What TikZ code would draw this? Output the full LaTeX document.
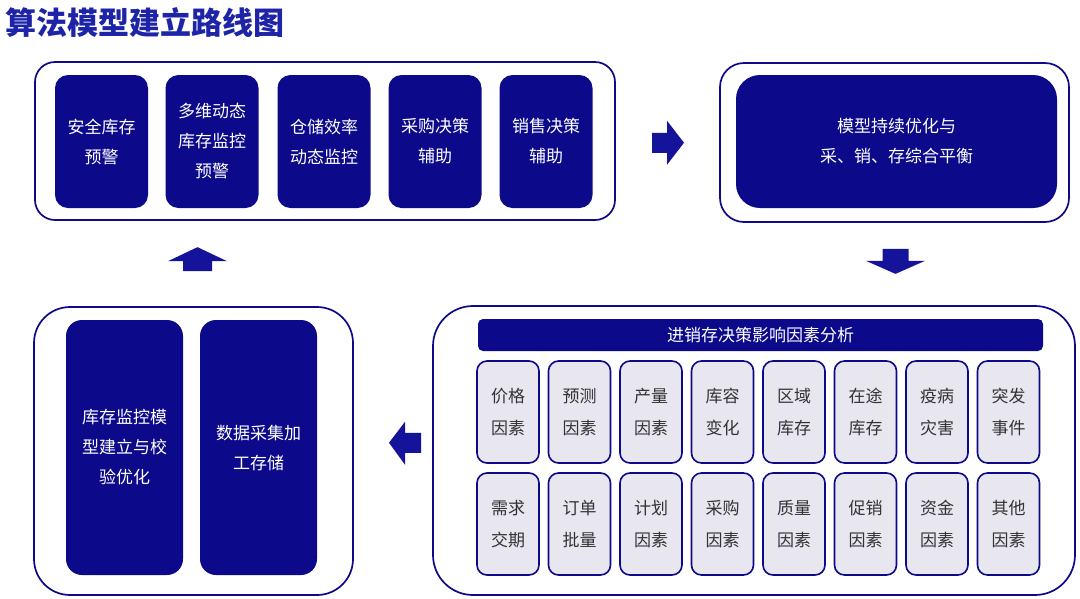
\documentclass[tikz,border=0pt]{standalone}
\usepackage{fontspec}
\setmainfont{Noto Sans CJK SC}
\definecolor{navy}{HTML}{0C0A8A}
\definecolor{titleblue}{HTML}{1E24A8}
\definecolor{arrowblue}{HTML}{15139A}
\definecolor{lavender}{HTML}{E8E6EF}
\definecolor{inkgray}{HTML}{333333}
\usepackage{tikz}
\usetikzlibrary{positioning,calc}

\begin{document}
\begin{tikzpicture}[x=1pt,y=-1pt,
    panel/.style={draw=navy,line width=1.7pt,fill=white,inner sep=0pt},
    card/.style={fill=navy,rounded corners=13pt,text=white,align=center,
      font=\fontsize{17}{30}\selectfont,inner sep=0pt},
    factor/.style={draw=navy,line width=1.6pt,fill=lavender,rounded corners=10pt,
      text=inkgray,align=center,font=\fontsize{17}{32}\selectfont,
      minimum width=62pt,minimum height=102pt,inner sep=0pt},
    blockarrow/.style={fill=arrowblue}]
  \useasboundingbox (0,0) rectangle (1080,598);
  % title
  \node[anchor=west,text=titleblue,font=\fontsize{31}{34}\selectfont\bfseries]
    (title) at (2,22) {算法模型建立路线图};
  % panel 1: monitoring functions
  \node[panel,rounded corners=20pt,minimum width=580pt,minimum height=158pt] (monitor) at (325,141) {};
  \foreach \cx/\txt [count=\i] in {101.5/{安全库存\\预警},212/{多维动态\\库存监控\\预警},
      324/{仓储效率\\动态监控},435/{采购决策\\辅助},546/{销售决策\\辅助}}
    \node[card,minimum width=93pt,minimum height=133pt] (fn\i) at (\cx,141.5) {\txt};
  % panel 2: continuous optimisation
  \node[panel,rounded corners=24pt,minimum width=349pt,minimum height=159pt] (outer) at (894.5,142.5) {};
  \node[card,rounded corners=24pt,minimum width=321pt,minimum height=133pt]
    (optimize) at (896.5,141.5) {模型持续优化与\\采、销、存综合平衡};
  % panel 3: factor analysis
  \node[panel,rounded corners=40pt,minimum width=642pt,minimum height=289pt] (factors) at (754,450.5) {};
  \node[fill=navy,rounded corners=5pt,text=white,font=\fontsize{17}{20}\selectfont,
    minimum width=565pt,minimum height=32pt,inner sep=0pt] (header) at (760.5,335) {进销存决策影响因素分析};
  \foreach \txt [count=\i] in {{价格\\因素},{预测\\因素},{产量\\因素},{库容\\变化},
      {区域\\库存},{在途\\库存},{疫病\\灾害},{突发\\事件}}
    \node[factor] (fa\i) at (508+71.5*\i-71.5,412) {\txt};
  \foreach \txt [count=\i] in {{需求\\交期},{订单\\批量},{计划\\因素},{采购\\因素},
      {质量\\因素},{促销\\因素},{资金\\因素},{其他\\因素}}
    \node[factor] (fb\i) at (508+71.5*\i-71.5,524) {\txt};
  % panel 4: model building and data
  \node[panel,rounded corners=36pt,minimum width=319pt,minimum height=288pt] (build) at (193.5,451) {};
  \node[card,rounded corners=16pt,minimum width=117pt,minimum height=255pt]
    (model) at (124.5,447.5) {库存监控模\\型建立与校\\验优化};
  \node[card,rounded corners=16pt,minimum width=117pt,minimum height=255pt]
    (data) at (258.5,447.5) {数据采集加\\工存储};
  % block arrows between panels
  \coordinate (toright) at ($(monitor.east)!0.5!(outer.west)+(-15.5,1)$);
  \coordinate (todown) at ($(outer.south)+(1,26)$);
  \coordinate (toleft) at ($(build.east)!0.5!(factors.west)+(-4,-8)$);
  \coordinate (toup) at ($(build.north)+(4,-59)$);
  \fill[blockarrow,shift={(toright)}] (0,-10) -- (15,-10) -- (15,-22) -- (32,0)
    -- (15,22) -- (15,10) -- (0,10) -- cycle;
  \fill[blockarrow,shift={(todown)}] (-13,0) -- (13,0) -- (13,12) -- (29.5,12)
    -- (0,25) -- (-29.5,12) -- (-13,12) -- cycle;
  \fill[blockarrow,shift={(toleft)}] (0,0) -- (16,-21) -- (16,-10) -- (32,-10)
    -- (32,10) -- (16,10) -- (16,22) -- cycle;
  \fill[blockarrow,shift={(toup)}] (0,0) -- (29.5,14) -- (14.5,14) -- (14.5,24)
    -- (-14.5,24) -- (-14.5,14) -- (-29.5,14) -- cycle;
\end{tikzpicture}
\end{document}
